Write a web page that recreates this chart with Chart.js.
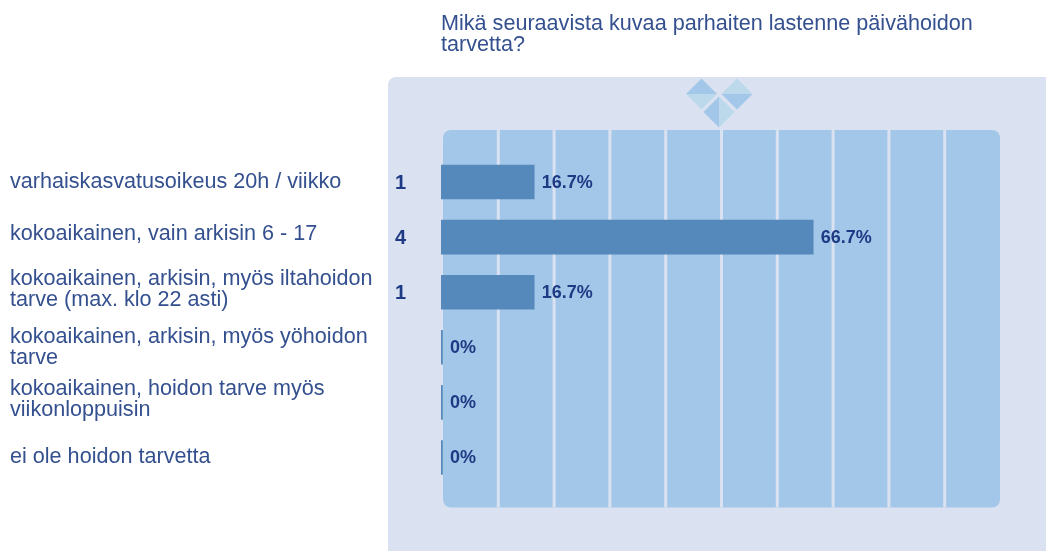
<!DOCTYPE html>
<html>
<head>
<meta charset="utf-8">
<style>
  html, body { margin: 0; padding: 0; background: #fff; }
  canvas { display: block; }
</style>
<script src="https://cdn.jsdelivr.net/npm/chart.js@4"></script>
</head>
<body>
<canvas id="chart" width="1046" height="551"></canvas>
<script>
const titleLines = ["Mikä seuraavista kuvaa parhaiten lastenne päivähoidon", "tarvetta?"];
const categories = [
  "varhaiskasvatusoikeus 20h / viikko",
  "kokoaikainen, vain arkisin 6 - 17",
  ["kokoaikainen, arkisin, myös iltahoidon", "tarve (max. klo 22 asti)"],
  ["kokoaikainen, arkisin, myös yöhoidon", "tarve"],
  ["kokoaikainen, hoidon tarve myös", "viikonloppuisin"],
  "ei ole hoidon tarvetta",
];
const percents = [16.7, 66.7, 16.7, 0, 0, 0];
const counts = [1, 4, 1, 0, 0, 0];

const panelColor = "#dae1f0";
const plotColor = "#a3c7e8";
const barColor = "#5589bb";
const labelColor = "#34508f";
const valueColor = "#1f3a85";
const fontName = "'Liberation Sans', Arial, sans-serif";
const textSize = 21.6;

function diamond(ctx, cx, cy, r, first, second, vertical) {
  ctx.fillStyle = first;
  ctx.beginPath();
  if (vertical) {
    ctx.moveTo(cx, cy - r); ctx.lineTo(cx - r, cy); ctx.lineTo(cx, cy + r);
  } else {
    ctx.moveTo(cx - r, cy); ctx.lineTo(cx, cy - r); ctx.lineTo(cx + r, cy);
  }
  ctx.closePath();
  ctx.fill();
  ctx.fillStyle = second;
  ctx.beginPath();
  if (vertical) {
    ctx.moveTo(cx, cy - r); ctx.lineTo(cx + r, cy); ctx.lineTo(cx, cy + r);
  } else {
    ctx.moveTo(cx - r, cy); ctx.lineTo(cx, cy + r); ctx.lineTo(cx + r, cy);
  }
  ctx.closePath();
  ctx.fill();
}

// panel, plot area and the small logo behind the bars
const backdrop = {
  id: "backdrop",
  beforeDraw(chart) {
    const { ctx, scales: { x } } = chart;
    ctx.save();
    ctx.fillStyle = panelColor;
    ctx.beginPath();
    ctx.roundRect(388, 77, 670, 490, 8);
    ctx.fill();

    const left = x.getPixelForValue(0) + 2;
    const right = x.getPixelForValue(100) + 1;
    ctx.fillStyle = plotColor;
    ctx.beginPath();
    ctx.roundRect(left, 130, right - left, 377.5, 8);
    ctx.fill();

    ctx.strokeStyle = panelColor;
    ctx.lineWidth = 3;
    x.ticks.forEach((tick) => {
      if (tick.value === 0 || tick.value === 100) return;
      const px = x.getPixelForValue(tick.value) + 1.5;
      ctx.beginPath();
      ctx.moveTo(px, 130);
      ctx.lineTo(px, 507.5);
      ctx.stroke();
    });

    diamond(ctx, 701.5, 94, 15.5, "#a3c7e8", "#bcd9ec", false);
    diamond(ctx, 737, 94, 15.5, "#bcd9ec", "#a3c7e8", false);
    diamond(ctx, 719, 112, 15.5, "#a3c7e8", "#bcd9ec", true);
    ctx.restore();
  },
};

// count column and percent at the end of each bar
const barLabels = {
  id: "barLabels",
  afterDatasetsDraw(chart) {
    const { ctx, scales: { y } } = chart;
    const bars = chart.getDatasetMeta(0).data;
    ctx.save();
    ctx.fillStyle = valueColor;
    ctx.textBaseline = "middle";
    ctx.font = "bold 20px " + fontName;
    ctx.textAlign = "center";
    counts.forEach((count, i) => {
      if (count > 0) ctx.fillText(count, 400.5, y.getPixelForValue(i) + 1);
    });
    ctx.font = "bold 18px " + fontName;
    ctx.textAlign = "left";
    percents.forEach((pct, i) => {
      ctx.fillText(pct + "%", bars[i].x + 7.5, y.getPixelForValue(i) + 1);
    });
    ctx.restore();
  },
};

// the labels do not sit exactly on the bar centres in the original
const labelShift = {
  id: "labelShift",
  afterUpdate(chart) {
    const shifts = [0, -3, -3, 0, -3, 0];
    chart.scales.y.getLabelItems().forEach((item, i) => {
      item.options.translation[1] += shifts[i];
    });
  },
};

const ctx = document.getElementById("chart");

new Chart(ctx, {
  type: "bar",
  data: {
    labels: categories,
    datasets: [
      {
        data: percents,
        backgroundColor: barColor,
        borderWidth: 0,
        barThickness: 34,
        minBarLength: 1.5,
      },
    ],
  },
  options: {
    indexAxis: "y",
    responsive: false,
    animation: false,
    layout: {
      padding: { left: 10, right: 47, top: 0, bottom: 58 },
    },
    scales: {
      x: {
        min: 0,
        max: 100,
        grid: { display: false },
        border: { display: false },
        ticks: { display: false, stepSize: 10 },
      },
      y: {
        grid: { display: false },
        border: { display: false },
        afterFit(scale) {
          scale.width = 431;
        },
        ticks: {
          autoSkip: false,
          crossAlign: "far",
          color: labelColor,
          font: { family: fontName, size: textSize, lineHeight: 21 / textSize },
        },
      },
    },
    plugins: {
      legend: { display: false },
      tooltip: { enabled: false },
      title: {
        display: true,
        text: titleLines,
        align: "start",
        fullSize: false,
        color: labelColor,
        font: { family: fontName, size: textSize, weight: "normal", lineHeight: 21 / textSize },
        padding: { top: 14, bottom: 98.5 },
      },
    },
  },
  plugins: [backdrop, barLabels, labelShift],
});
</script>
</body>
</html>
